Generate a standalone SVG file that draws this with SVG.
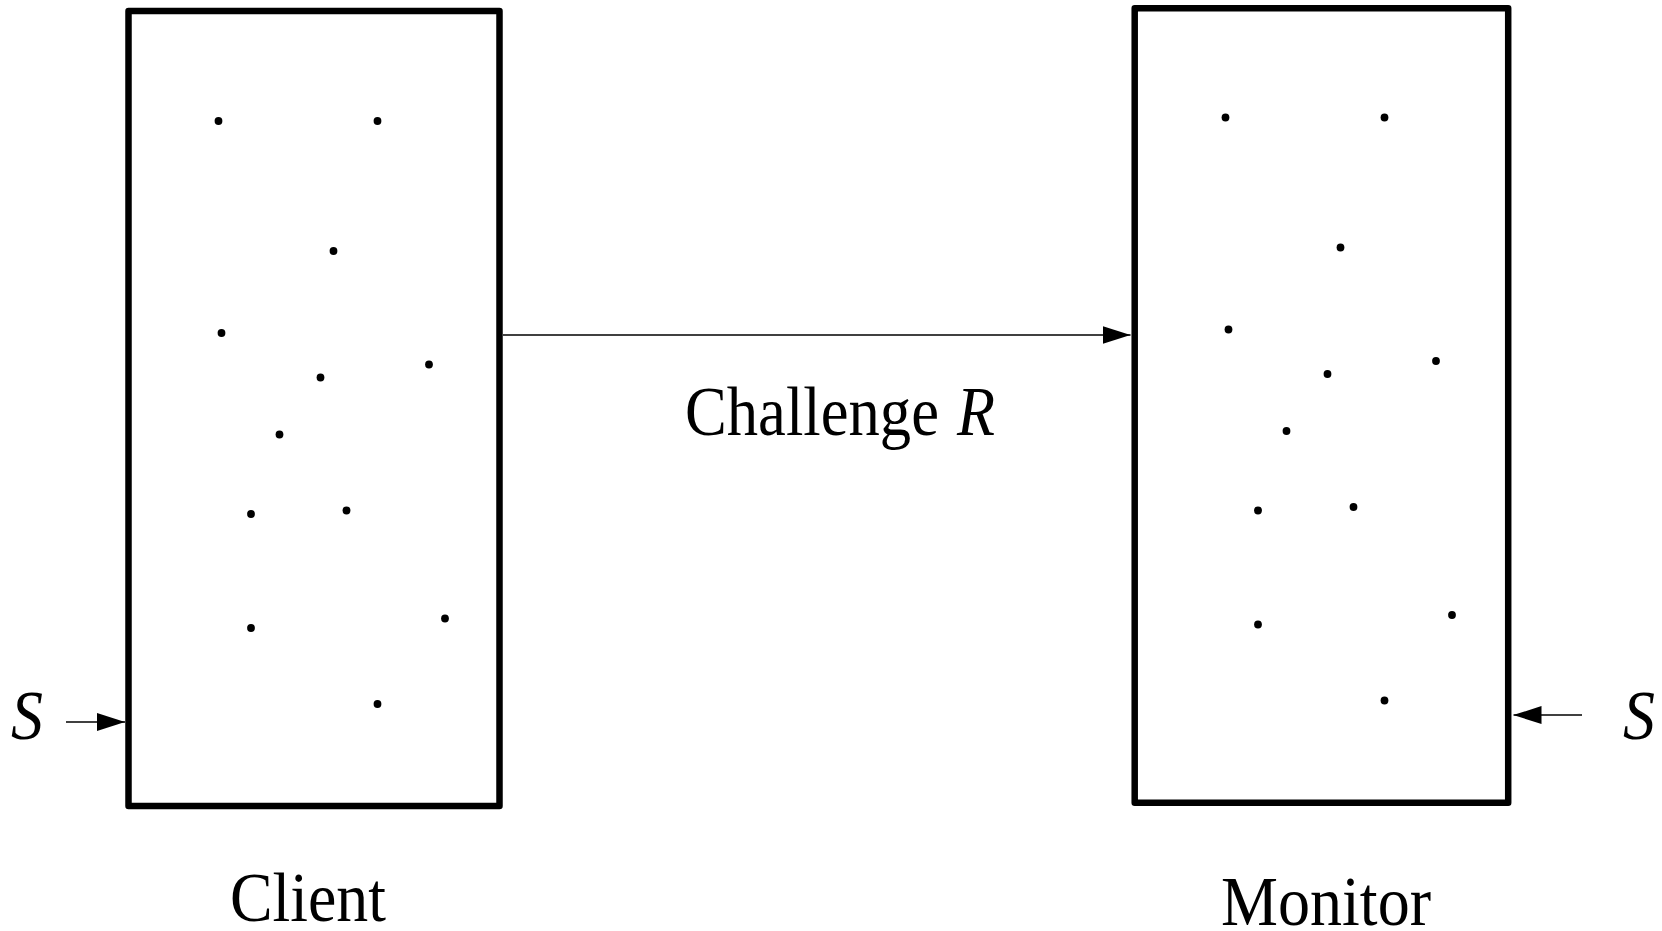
<svg xmlns="http://www.w3.org/2000/svg" width="1662" height="931" viewBox="0 0 1662 931">
  <style>
    .box { fill: #fff; stroke: #000; stroke-width: 6.5; stroke-linejoin: round; }
    .dot { fill: #000; }
    .wire { stroke: #000; stroke-width: 1.3; fill: none; }
    .lbl { font-family: "Liberation Serif", "Times New Roman", serif; font-size: 70px; fill: #000; }
    .it { font-style: italic; }
  </style>
  <defs>
    <marker id="head" markerUnits="userSpaceOnUse" markerWidth="28" markerHeight="18" refX="28" refY="9" orient="auto">
      <path d="M0,0 L28,9 L0,18 Z" fill="#000"/>
    </marker>
    <!-- scatter of points inside each block -->
    <g id="points">
      <circle class="dot" cx="90" cy="110" r="3.9"/>
      <circle class="dot" cx="249" cy="110" r="3.9"/>
      <circle class="dot" cx="205" cy="240" r="3.9"/>
      <circle class="dot" cx="93" cy="322" r="3.9"/>
      <circle class="dot" cx="192" cy="366.5" r="3.9"/>
      <circle class="dot" cx="300.5" cy="353.5" r="3.9"/>
      <circle class="dot" cx="151" cy="423.5" r="3.9"/>
      <circle class="dot" cx="122.5" cy="503" r="3.9"/>
      <circle class="dot" cx="218" cy="499.5" r="3.9"/>
      <circle class="dot" cx="122.5" cy="617" r="3.9"/>
      <circle class="dot" cx="316.5" cy="607.5" r="3.9"/>
      <circle class="dot" cx="249" cy="693" r="3.9"/>
    </g>
  </defs>

  <g id="client">
    <rect class="box" x="128.5" y="11" width="371" height="795"/>
    <use href="#points" x="128.5" y="11"/>
    <text class="lbl" x="230" y="921" textLength="156" lengthAdjust="spacingAndGlyphs">Client</text>
  </g>

  <g id="monitor">
    <rect class="box" x="1134.7" y="8.3" width="373.5" height="794.5"/>
    <use href="#points" x="1135.5" y="7.5"/>
    <text class="lbl" x="1221" y="925" textLength="210" lengthAdjust="spacingAndGlyphs">Monitor</text>
  </g>

  <g id="secret-client">
    <text class="lbl it" x="11" y="739" textLength="32" lengthAdjust="spacingAndGlyphs">S</text>
  </g>

  <g id="secret-monitor">
    <text class="lbl it" x="1623" y="739" textLength="32" lengthAdjust="spacingAndGlyphs">S</text>
  </g>

  <g id="connectors">
    <line class="wire" x1="503" y1="335" x2="1130.5" y2="335" marker-end="url(#head)"/>
    <line class="wire" x1="66" y1="722" x2="125" y2="722" marker-end="url(#head)"/>
    <line class="wire" x1="1582" y1="715" x2="1513.5" y2="715" marker-end="url(#head)"/>
  </g>

  <g id="challenge-label">
    <text class="lbl" x="685" y="435" textLength="254" lengthAdjust="spacingAndGlyphs">Challenge</text>
    <text class="lbl it" x="957" y="435" textLength="38" lengthAdjust="spacingAndGlyphs">R</text>
  </g>
</svg>
